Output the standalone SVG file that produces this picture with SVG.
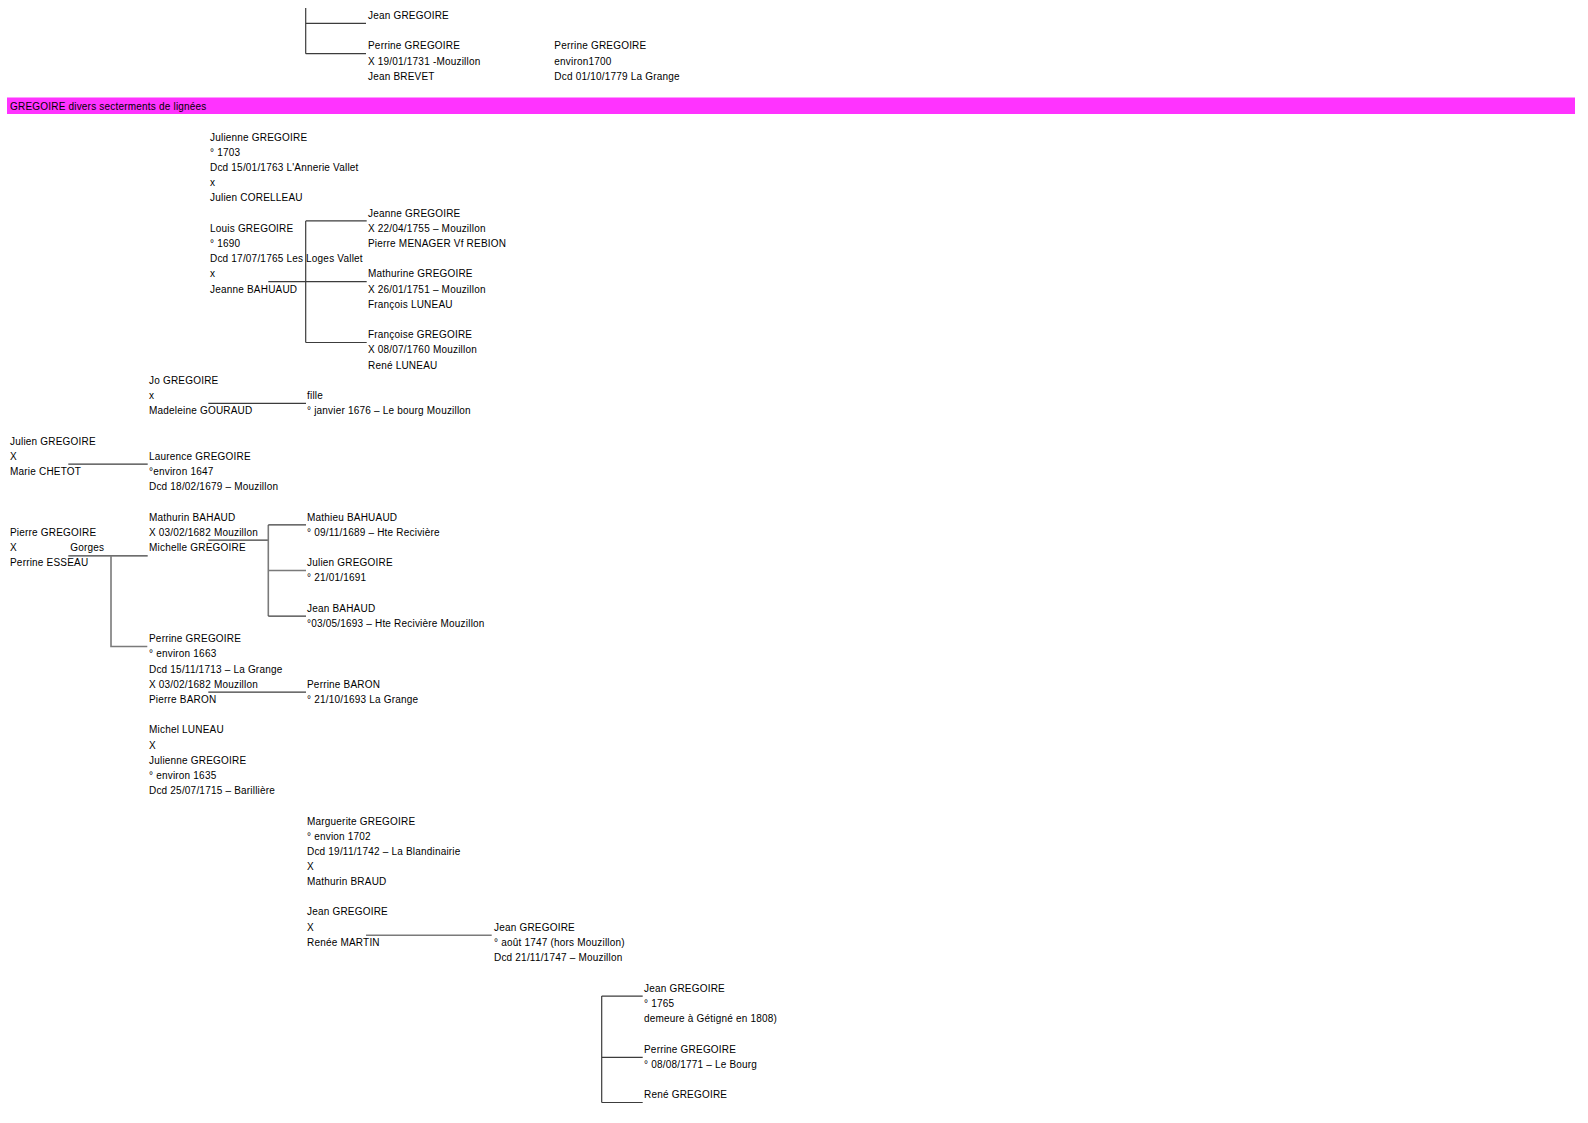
<svg xmlns="http://www.w3.org/2000/svg" width="1588" height="1123" viewBox="0 0 1588 1123">
<style>
text{font-family:"Liberation Sans",Arial,sans-serif;font-size:10px;letter-spacing:0.2px;fill:#000}
.l{stroke:#3c3c3c;stroke-width:1.2;fill:none}
.g{stroke:#7a7a7a;stroke-width:1.6;fill:none}
</style>
<rect width="1588" height="1123" fill="#fff"/>
<rect id="bar" x="7" y="97.5" width="1568" height="16.5" fill="#ff33ff"/>
<text x="10" y="110.2">GREGOIRE divers secterments de lignées</text>
<g id="connectors">
<path class="l" d="M305.7 8V53.7M305.7 23.3H366M305.7 53.7H366"/>
<path class="l" d="M305.7 220.9V342.5M305.7 220.9H366.7M268.3 281.7H366.7M305.7 342.5H366.7"/>
<path class="l" d="M208.3 403.3H306"/>
<path class="l" d="M68.3 464.1H147.7"/>
<path class="l" d="M68.3 555.8H147.7"/>
<path class="g" d="M111 555.8V646.5H147.3"/>
<path class="l" d="M208.3 540.1H268.3"/>
<path class="g" d="M268.3 524.9V616.1"/>
<path class="l" d="M268.3 524.9H306M268.3 616.1H306"/>
<path class="g" d="M268.3 570.5H306"/>
<path class="l" d="M208.3 692.1H306"/>
<path class="g" d="M366 935.3H491.7"/>
<path class="l" d="M601.7 996.1V1102.5M601.7 996.1H642.7M601.7 1057.3H642.7M601.7 1102.5H642.7"/>
</g>
<g id="n-jean-top"><text x="368" y="19">Jean GREGOIRE</text></g>
<g id="n-perrine-brevet"><text x="368" y="49.4">Perrine GREGOIRE</text><text x="368" y="64.6">X 19/01/1731 -Mouzillon</text><text x="368" y="79.8">Jean BREVET</text></g>
<g id="n-perrine-1700"><text x="554.3" y="49.4">Perrine GREGOIRE</text><text x="554.3" y="64.6">environ1700</text><text x="554.3" y="79.8">Dcd 01/10/1779 La Grange</text></g>
<g id="n-julienne-1703"><text x="210" y="140.6">Julienne GREGOIRE</text><text x="210" y="155.8">° 1703</text><text x="210" y="171">Dcd 15/01/1763 L'Annerie Vallet</text><text x="210" y="186.2">x</text><text x="210" y="201.4">Julien CORELLEAU</text></g>
<g id="n-louis"><text x="210" y="231.8">Louis GREGOIRE</text><text x="210" y="247">° 1690</text><text x="210" y="262.2">Dcd 17/07/1765 Les Loges Vallet</text><text x="210" y="277.4">x</text><text x="210" y="292.6">Jeanne BAHUAUD</text></g>
<g id="n-jeanne"><text x="368" y="216.6">Jeanne GREGOIRE</text><text x="368" y="231.8">X 22/04/1755 – Mouzillon</text><text x="368" y="247">Pierre MENAGER Vf REBION</text></g>
<g id="n-mathurine"><text x="368" y="277.4">Mathurine GREGOIRE</text><text x="368" y="292.6">X 26/01/1751 – Mouzillon</text><text x="368" y="307.8">François LUNEAU</text></g>
<g id="n-francoise"><text x="368" y="338.2">Françoise GREGOIRE</text><text x="368" y="353.4">X 08/07/1760 Mouzillon</text><text x="368" y="368.6">René LUNEAU</text></g>
<g id="n-jo"><text x="149" y="383.8">Jo GREGOIRE</text><text x="149" y="399">x</text><text x="149" y="414.2">Madeleine GOURAUD</text></g>
<g id="n-fille"><text x="307" y="399">fille</text><text x="307" y="414.2">°  janvier 1676 – Le bourg Mouzillon</text></g>
<g id="n-julien"><text x="10" y="444.6">Julien GREGOIRE</text><text x="10" y="459.8">X</text><text x="10" y="475">Marie CHETOT</text></g>
<g id="n-laurence"><text x="149" y="459.8">Laurence GREGOIRE</text><text x="149" y="475">°environ 1647</text><text x="149" y="490.2">Dcd 18/02/1679 – Mouzillon</text></g>
<g id="n-pierre"><text x="10" y="535.8">Pierre GREGOIRE</text><text x="10" y="551">X</text><text x="70.3" y="551">Gorges</text><text x="10" y="566.2">Perrine ESSEAU</text></g>
<g id="n-mathurin"><text x="149" y="520.6">Mathurin BAHAUD</text><text x="149" y="535.8">X 03/02/1682 Mouzillon</text><text x="149" y="551">Michelle GREGOIRE</text></g>
<g id="n-mathieu"><text x="307" y="520.6">Mathieu BAHUAUD</text><text x="307" y="535.8">° 09/11/1689 – Hte Recivière</text></g>
<g id="n-julien2"><text x="307" y="566.2">Julien GREGOIRE</text><text x="307" y="581.4">° 21/01/1691</text></g>
<g id="n-jean-bahaud"><text x="307" y="611.8">Jean BAHAUD</text><text x="307" y="627">°03/05/1693 – Hte Recivière Mouzillon</text></g>
<g id="n-perrine-1663"><text x="149" y="642.2">Perrine GREGOIRE</text><text x="149" y="657.4">° environ 1663</text><text x="149" y="672.6">Dcd 15/11/1713 – La Grange</text><text x="149" y="687.8">X 03/02/1682 Mouzillon</text><text x="149" y="703">Pierre BARON</text></g>
<g id="n-perrine-baron"><text x="307" y="687.8">Perrine BARON</text><text x="307" y="703">° 21/10/1693 La Grange</text></g>
<g id="n-michel"><text x="149" y="733.4">Michel LUNEAU</text><text x="149" y="748.6">X</text><text x="149" y="763.8">Julienne GREGOIRE</text><text x="149" y="779">° environ 1635</text><text x="149" y="794.2">Dcd 25/07/1715 – Barillière</text></g>
<g id="n-marguerite"><text x="307" y="824.6">Marguerite GREGOIRE</text><text x="307" y="839.8">° envion 1702</text><text x="307" y="855">Dcd 19/11/1742 – La Blandinairie</text><text x="307" y="870.2">X</text><text x="307" y="885.4">Mathurin BRAUD</text></g>
<g id="n-jean-renee"><text x="307" y="915">Jean GREGOIRE</text><text x="307" y="930.5">X</text><text x="307" y="945.8">Renée MARTIN</text></g>
<g id="n-jean-1747"><text x="494" y="930.5">Jean GREGOIRE</text><text x="494" y="945.8">° août 1747 (hors Mouzillon)</text><text x="494" y="961">Dcd 21/11/1747 – Mouzillon</text></g>
<g id="n-jean-1765"><text x="644" y="991.8">Jean GREGOIRE</text><text x="644" y="1007">° 1765</text><text x="644" y="1022.2">demeure à Gétigné en 1808)</text></g>
<g id="n-perrine-1771"><text x="644" y="1052.6">Perrine GREGOIRE</text><text x="644" y="1067.8">° 08/08/1771 – Le Bourg</text></g>
<g id="n-rene"><text x="644" y="1098.2">René GREGOIRE</text></g>
</svg>
